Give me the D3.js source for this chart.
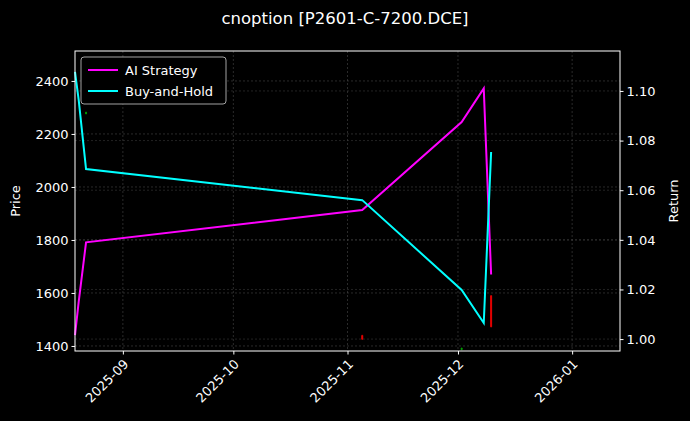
<!DOCTYPE html>
<html><head><meta charset="utf-8">
<script src="https://cdn.jsdelivr.net/npm/d3@7"></script>
<style>body{margin:0;background:#000;}svg{font-family:"DejaVu Sans",sans-serif;}</style>
</head><body>
<script>
// data
const dates = ["2025-08-19", "2025-08-20", "2025-08-22", "2025-11-05", "2025-12-02", "2025-12-08", "2025-12-10"];
const aiStrategy = [1.0016, 1.015, 1.039, 1.052, 1.0875, 1.101, 1.026];
const buyHold = [1.1077, 1.0964, 1.0685, 1.056, 1.0198, 1.0065, 1.0754];
const candleDates = ["2025-08-22", "2025-11-05", "2025-12-02", "2025-12-10"];
const candleOpen = [2276, 1440, 1386, 1590];
const candleClose = [2282, 1425, 1392, 1472];
const candleHigh = [2284, 1442, 1394, 1592];
const candleLow = [2274, 1423, 1384, 1470];
const priceTicks = [1400, 1600, 1800, 2000, 2200, 2400];
const returnTicks = [1.00, 1.02, 1.04, 1.06, 1.08, 1.10];
const monthTicks = ["2025-09-01", "2025-10-01", "2025-11-01", "2025-12-01", "2026-01-01"];

const W = 690, H = 421;
const m = {left: 75, right: 70, top: 51, bottom: 70};
const parse = d3.utcParse("%Y-%m-%d");
const svg = d3.select("body").append("svg").attr("width", W).attr("height", H);
svg.append("rect").attr("width", W).attr("height", H).attr("fill", "#000");

const x = d3.scaleUtc().domain([parse("2025-08-19"), parse("2026-01-14")]).range([m.left, W - m.right]);
const yP = d3.scaleLinear().domain([1381, 2513]).range([H - m.bottom, m.top]);
const yR = d3.scaleLinear().domain([0.9952, 1.1161]).range([H - m.bottom, m.top]);

// grid
const g = svg.append("g");
g.selectAll(".gx").data(monthTicks).enter().append("line")
    .attr("x1", d => x(parse(d))).attr("x2", d => x(parse(d)))
    .attr("y1", m.top).attr("y2", H - m.bottom)
    .attr("stroke", "#555").attr("stroke-width", 0.5).attr("stroke-dasharray", "2,2");
g.selectAll(".gy").data(priceTicks).enter().append("line")
    .attr("x1", m.left).attr("x2", W - m.right)
    .attr("y1", d => yP(d)).attr("y2", d => yP(d))
    .attr("stroke", "#555").attr("stroke-width", 0.5).attr("stroke-dasharray", "2,2");
g.selectAll(".gr").data(returnTicks).enter().append("line")
    .attr("x1", m.left).attr("x2", W - m.right)
    .attr("y1", d => yR(d)).attr("y2", d => yR(d))
    .attr("stroke", "#444").attr("stroke-width", 0.5).attr("stroke-dasharray", "2,2");

// candles
candleDates.forEach((d, i) => {
    const cx = x(parse(d));
    const col = candleClose[i] >= candleOpen[i] ? "#00a000" : "#e00000";
    svg.append("line").attr("x1", cx).attr("x2", cx)
        .attr("y1", yP(candleHigh[i])).attr("y2", yP(candleLow[i]))
        .attr("stroke", col).attr("stroke-width", 1);
    svg.append("rect").attr("x", cx - 1).attr("width", 2)
        .attr("y", yP(Math.max(candleOpen[i], candleClose[i])))
        .attr("height", Math.max(1, Math.abs(yP(candleOpen[i]) - yP(candleClose[i]))))
        .attr("fill", col);
});

// return lines
const line = d3.line().x((d, i) => x(parse(dates[i]))).y(d => yR(d));
svg.append("path").datum(aiStrategy).attr("d", line).attr("fill", "none")
    .attr("stroke", "#ff00ff").attr("stroke-width", 2);
svg.append("path").datum(buyHold).attr("d", line).attr("fill", "none")
    .attr("stroke", "#00ffff").attr("stroke-width", 2);

// frame
svg.append("rect").attr("x", m.left).attr("y", m.top)
    .attr("width", W - m.left - m.right).attr("height", H - m.top - m.bottom)
    .attr("fill", "none").attr("stroke", "#fff").attr("stroke-width", 1);

// axes
const fmt = d3.utcFormat("%Y-%m");
const ax = svg.append("g").attr("transform", `translate(0,${H - m.bottom})`)
    .call(d3.axisBottom(x).tickValues(monthTicks.map(parse)).tickFormat(fmt).tickSize(3.5));
const al = svg.append("g").attr("transform", `translate(${m.left},0)`)
    .call(d3.axisLeft(yP).tickValues(priceTicks).tickFormat(d3.format("d")).tickSize(3.5));
const ar = svg.append("g").attr("transform", `translate(${W - m.right},0)`)
    .call(d3.axisRight(yR).tickValues(returnTicks).tickFormat(d3.format(".2f")).tickSize(3.5));
[ax, al, ar].forEach(a => {
    a.select(".domain").remove();
    a.selectAll("line").attr("stroke", "#fff");
    a.selectAll("text").attr("fill", "#fff").style("font-size", "13px").style("font-family", "DejaVu Sans");
});
ax.selectAll("text").attr("text-anchor", "end").attr("y", 0).attr("dy", 0)
    .attr("transform", "translate(6,14) rotate(-45)");

// labels
svg.append("text").attr("x", 345).attr("y", 24).attr("text-anchor", "middle")
    .attr("fill", "#fff").style("font-size", "16.5px").text("cnoption [P2601-C-7200.DCE]");
svg.append("text").attr("transform", "translate(20,201) rotate(-90)").attr("text-anchor", "middle")
    .attr("fill", "#fff").style("font-size", "13px").text("Price");
svg.append("text").attr("transform", "translate(678,201) rotate(-90)").attr("text-anchor", "middle")
    .attr("fill", "#fff").style("font-size", "13px").text("Return");

// legend
const lg = svg.append("g").attr("transform", "translate(81,57)");
lg.append("rect").attr("width", 145).attr("height", 47).attr("rx", 3)
    .attr("fill", "#000").attr("stroke", "#ccc").attr("stroke-width", 0.8);
[["AI Strategy", "#ff00ff"], ["Buy-and-Hold", "#00ffff"]].forEach((s, i) => {
    lg.append("line").attr("x1", 7).attr("x2", 37).attr("y1", 13 + i * 21).attr("y2", 13 + i * 21)
        .attr("stroke", s[1]).attr("stroke-width", 2);
    lg.append("text").attr("x", 44).attr("y", 18 + i * 21).attr("fill", "#fff")
        .style("font-size", "13px").text(s[0]);
});
</script>
</body></html>
